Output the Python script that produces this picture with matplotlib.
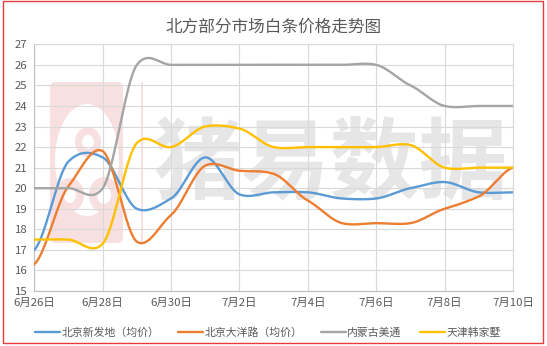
import matplotlib
matplotlib.use('Agg')
import matplotlib.pyplot as plt
import numpy as np
from matplotlib.patches import Rectangle, FancyBboxPatch, Ellipse

plt.rcParams['font.family'] = ['Noto Sans CJK SC', 'DejaVu Sans']

# Data (daily prices, 6/26 - 7/10)
dates = ['6月26日', '6月27日', '6月28日', '6月29日', '6月30日', '7月1日', '7月2日', '7月3日',
         '7月4日', '7月5日', '7月6日', '7月7日', '7月8日', '7月9日', '7月10日']
xinfadi = [17.0, 21.3, 21.5, 19.0, 19.5, 21.5, 19.7, 19.8, 19.8, 19.5, 19.5, 20.0, 20.3, 19.8, 19.8]
dayanglu = [16.3, 20.1, 21.8, 17.4, 18.7, 21.1, 20.85, 20.7, 19.4, 18.3, 18.3, 18.3, 19.0, 19.6, 21.0]
meitong = [20.0, 20.0, 20.0, 26.0, 26.0, 26.0, 26.0, 26.0, 26.0, 26.0, 26.0, 25.0, 24.0, 24.0, 24.0]
hanjiashu = [17.5, 17.5, 17.3, 22.2, 22.0, 23.0, 22.9, 22.0, 22.0, 22.0, 22.0, 22.1, 21.0, 21.0, 21.0]

names = ['北京新发地（均价）', '北京大洋路（均价）', '内蒙古美通', '天津韩家墅']
colors = ['#5B9BD5', '#ED7D31', '#A5A5A5', '#FFC000']


# Excel-like smoothed line (Catmull-Rom style bezier through each point)
def smooth(y, n=40, k=0.75):
    y = np.asarray(y, dtype=float)
    x = np.arange(len(y), dtype=float)
    px = np.concatenate([[x[0]], x, [x[-1]]])
    py = np.concatenate([[y[0]], y, [y[-1]]])
    xs, ys = [], []
    t = np.linspace(0, 1, n)
    for i in range(1, len(px) - 2):
        p0, p1, p2, p3 = py[i - 1], py[i], py[i + 1], py[i + 2]
        c1 = p1 + k * (p2 - p0) / 6
        c2 = p2 - k * (p3 - p1) / 6
        yy = (1 - t) ** 3 * p1 + 3 * (1 - t) ** 2 * t * c1 + 3 * (1 - t) * t ** 2 * c2 + t ** 3 * p2
        xs.append(px[i] + t)
        ys.append(yy)
    return np.concatenate(xs), np.concatenate(ys)


fig = plt.figure(figsize=(5.47, 3.46), dpi=100)
W, H = 547, 346


def pix(x, y):
    # pixel coords (from top-left) -> figure inches
    return x / 100, (H - y) / 100


# watermark logo (light pink) and text behind the plot
pink = '#f8e0e0'
lx, ly = pix(50, 243)
fig.patches.append(FancyBboxPatch((lx, ly), 0.73, 1.61, boxstyle='round,pad=0,rounding_size=0.06',
                                  transform=fig.dpi_scale_trans, facecolor=pink,
                                  edgecolor='none', zorder=-2))
for cx, cy, w, h, c in [(87, 160, 64, 112, 'white'), (88, 142, 26, 30, pink),
                        (70, 195, 28, 34, pink), (104, 195, 30, 36, pink),
                        (88, 142, 12, 14, 'white'), (70, 195, 12, 16, 'white'),
                        (104, 195, 14, 18, 'white')]:
    ex, ey = pix(cx, cy)
    fig.patches.append(Ellipse((ex, ey), w / 100, h / 100, transform=fig.dpi_scale_trans,
                               facecolor=c, edgecolor='none', zorder=-2))
vx, vy = pix(141, 243)
fig.patches.append(Rectangle((vx, vy), 0.015, 1.61, transform=fig.dpi_scale_trans,
                             facecolor=pink, edgecolor='none', zorder=-2))
fig.text(331 / W, 1 - 165 / H, '猪易数据', fontsize=64, fontweight='black', color='#e6e6e6',
         ha='center', va='center', zorder=-2,
         family=['Noto Sans CJK SC', 'DejaVu Sans'])

ax = fig.add_axes([34.3 / W, 1 - 291 / H, (513 - 34.3) / W, (291 - 44.3) / H])
ax.set_facecolor('none')

x = np.arange(len(dates))
for vals, name, col in zip([xinfadi, dayanglu, meitong, hanjiashu], names, colors):
    sx, sy = smooth(vals)
    ax.plot(sx, sy, color=col, lw=1.7, label=name, solid_capstyle='round', zorder=3)

ax.set_xlim(0, len(dates) - 1)
ax.set_ylim(15, 27)
ax.set_yticks(np.arange(15, 28, 1))
ax.set_xticks(x[::2])
ax.set_xticklabels(dates[::2])
ax.grid(True, color='#d9d9d9', lw=0.8, zorder=1)
ax.set_axisbelow(True)
for s in ax.spines.values():
    s.set_color('#d9d9d9')
    s.set_linewidth(0.8)
ax.spines['left'].set_color('#bfbfbf')
ax.spines['bottom'].set_color('#bfbfbf')
ax.tick_params(length=0, labelsize=8.2, colors='#595959', pad=5)

fig.text(273 / W, 1 - 27 / H, '北方部分市场白条价格走势图', fontsize=12, color='#595959',
         ha='center', va='center')

fig.legend(loc='center', bbox_to_anchor=(268 / W, 1 - 333 / H), ncol=4, frameon=False,
           fontsize=7.8, handlelength=2.3, columnspacing=1.75, handletextpad=0.1,
           labelcolor='#595959')

# red border around the whole picture
bx, by = pix(3, 343)
fig.patches.append(Rectangle((bx, by), 5.40, 3.42, transform=fig.dpi_scale_trans,
                             facecolor='none', edgecolor='#e63b3b', lw=1.0, zorder=5))

fig.savefig('out.png', dpi=100)
